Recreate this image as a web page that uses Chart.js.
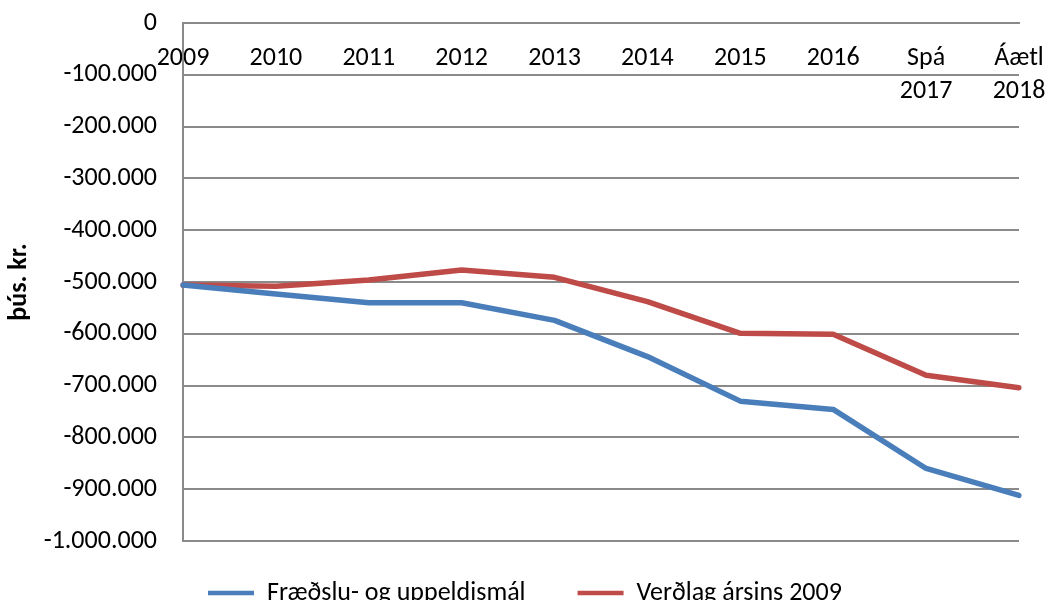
<!DOCTYPE html>
<html>
<head>
<meta charset="utf-8">
<script src="https://cdn.jsdelivr.net/npm/chart.js@4.4.1/dist/chart.umd.min.js"></script>
<style>
  html, body { margin: 0; padding: 0; background: #fff; overflow: hidden; }
  canvas { display: block; }
</style>
</head>
<body>
<canvas id="chart" width="1048" height="603"></canvas>
<script>
// ár (flokkar) og gildi í þús. kr.
const categories = ['2009', '2010', '2011', '2012', '2013', '2014', '2015', '2016', ['Spá', '2017'], ['Áætl', '2018']];
const fraedsla = [-506000, -523000, -540000, -540000, -574000, -644000, -730000, -746000, -860000, -912000];
const verdlag = [-506000, -508000, -496000, -477000, -491000, -538000, -599000, -601000, -680000, -704000];
const seriesNames = ['Fræðslu- og uppeldismál', 'Verðlag ársins 2009'];
const yTicks = { min: -1000000, max: 0, step: 100000 };
const yTitle = 'þús. kr.';

const FONT = 'Carlito, Calibri, sans-serif';
const GRID = '#8a8a8a';
const LINE_W = 5.5;
const LEGEND_PAD = 52;

// íslenskur talnasnið: -1.000.000
function fmt(v) {
    if (v === 0) return '0';
    const s = Math.abs(v).toString().replace(/\B(?=(\d{3})+(?!\d))/g, '.');
    return (v < 0 ? '-' : '') + s;
}

// færir skýringuna á sama stað og í Excel-myndinni (hún er skorin af neðst)
const legendPlace = {
    id: 'legendPlace',
    afterLayout(chart) {
        const lg = chart.legend;
        if (!lg) return;
        lg.left = 208 - LEGEND_PAD;
        lg.top = 593 - LEGEND_PAD - 13;
    }
};

Chart.defaults.color = '#000';
Chart.defaults.font.family = FONT;

new Chart(document.getElementById('chart').getContext('2d'), {
    type: 'line',
    data: {
        labels: categories,
        datasets: [
            { label: seriesNames[0], data: fraedsla, borderColor: '#4a7ebb', backgroundColor: '#4a7ebb', borderWidth: LINE_W },
            { label: seriesNames[1], data: verdlag, borderColor: '#be4b48', backgroundColor: '#be4b48', borderWidth: LINE_W }
        ]
    },
    options: {
        responsive: false,
        animation: false,
        devicePixelRatio: 1,
        layout: { padding: { left: 0, right: 29, top: 23, bottom: 3 } },
        elements: {
            line: { tension: 0, borderCapStyle: 'round', borderJoinStyle: 'round' },
            point: { radius: 0, hoverRadius: 0 }
        },
        plugins: {
            tooltip: { enabled: false },
            legend: {
                position: 'bottom',
                align: 'start',
                maxHeight: 59,
                labels: {
                    usePointStyle: true,
                    pointStyle: 'line',
                    pointStyleWidth: 46,
                    padding: LEGEND_PAD,
                    font: { size: 26, family: FONT },
                    color: '#000',
                    generateLabels: chart => Chart.defaults.plugins.legend.labels.generateLabels(chart)
                        .map(item => Object.assign(item, { lineWidth: 4.5 }))
                }
            }
        },
        scales: {
            x: {
                type: 'category',
                position: { y: 0 },
                offset: false,
                grid: { display: false },
                border: { display: true, color: GRID, width: 2 },
                ticks: {
                    autoSkip: false,
                    maxRotation: 0,
                    padding: 11,
                    font: { size: 26, family: FONT, lineHeight: 1.27 },
                    color: '#000'
                },
                afterFit: s => {
                    s.height = 0;
                    s.paddingLeft = 0;
                    s.paddingRight = 0;
                }
            },
            y: {
                min: yTicks.min,
                max: yTicks.max,
                grid: { color: GRID, lineWidth: 2, drawTicks: false },
                border: { display: true, color: GRID, width: 2 },
                ticks: {
                    stepSize: yTicks.step,
                    padding: 26,
                    font: { size: 26, family: FONT },
                    color: '#000',
                    callback: v => fmt(v)
                },
                title: {
                    display: true,
                    text: yTitle,
                    font: { size: 26, weight: 'bold', family: FONT },
                    color: '#000'
                },
                afterFit: s => {
                    s.width = 183;
                    s.paddingTop = 0;
                    s.paddingBottom = 0;
                }
            }
        }
    },
    plugins: [legendPlace]
});
</script>
</body>
</html>
